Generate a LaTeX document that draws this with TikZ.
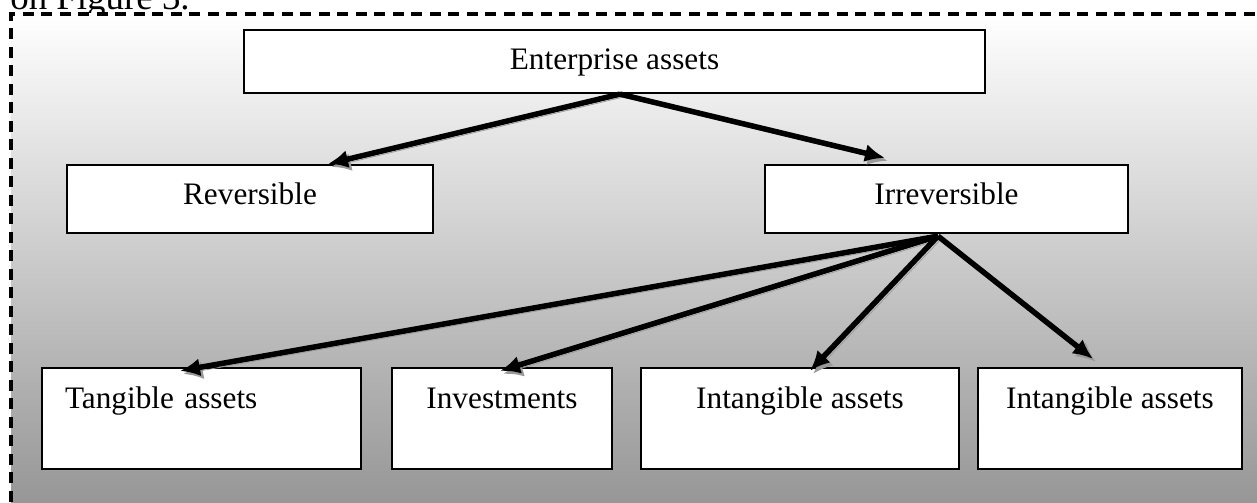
\documentclass[tikz,border=0pt]{standalone}
\usepackage{fontspec}
\setmainfont{Liberation Serif}
\usepackage{tikz}
\usetikzlibrary{arrows.meta,calc}

\begin{document}
\begin{tikzpicture}[x=0.02cm, y=-0.02cm,
	every node/.style={font=\fontsize{17.8}{21}\selectfont},
	box/.style={draw=black, fill=white, line width=0.045cm, inner sep=0pt, text height=0.8cm},
	arr/.style={line width=0.11cm, -{Latex[length=0.4cm,width=0.36cm]},
		preaction={draw=black!40, transform canvas={shift={(0.06cm,-0.06cm)}}}}]
	\useasboundingbox (0,0) rectangle (1257,503);
	\node[anchor=base west, inner sep=0pt, font=\fontsize{21}{25}\selectfont] (cap) at (10,10) {on Figure 3.};
	\shade[top color=white, bottom color=black!42] (11,14) rectangle (1275,515);
	\draw[line width=0.07cm, dash pattern=on 0.22cm off 0.15cm] (11,520) -- (11,14) -- (1275,14);
	\node[box, minimum width=14.82cm, text depth=0.46cm] (ent) at (614.5,61.5) {Enterprise assets};
	\node[box, minimum width=7.32cm, text depth=0.56cm] (rev) at (250,199) {Reversible};
	\node[box, minimum width=7.26cm, text depth=0.56cm] (irr) at (946.5,199) {Irreversible};
	\node[box, text width=5.46cm, inner xsep=0.46cm, align=left, text depth=1.22cm] (tang) at (201.5,418.5) {Tangible assets};
	\node[box, minimum width=4.4cm, text depth=1.22cm] (inv) at (502,418.5) {Investments};
	\node[box, minimum width=6.36cm, text depth=1.22cm] (intang1) at (800,418.5) {Intangible assets};
	\node[box, minimum width=5.28cm, text depth=1.22cm] (intang2) at (1110,418.5) {Intangible assets};
	\draw[arr] ($(ent.south)+(5.5,0)$) -- ($(rev.north)+(78,0)$);
	\draw[arr] ($(ent.south)+(5.5,0)$) -- ($(irr.north)+(-61.5,-6)$);
	\draw[arr] ($(irr.south)+(-8.5,2)$) -- ($(tang.north)+(-21.5,4)$);
	\draw[arr] ($(irr.south)+(-8.5,2)$) -- ($(inv.north)+(-2,4)$);
	\draw[arr] ($(irr.south)+(-8.5,2)$) -- ($(intang1.north)+(10,4)$);
	\draw[arr] ($(irr.south)+(-8.5,2)$) -- ($(intang2.north)+(-17,-8)$);
\end{tikzpicture}
\end{document}
